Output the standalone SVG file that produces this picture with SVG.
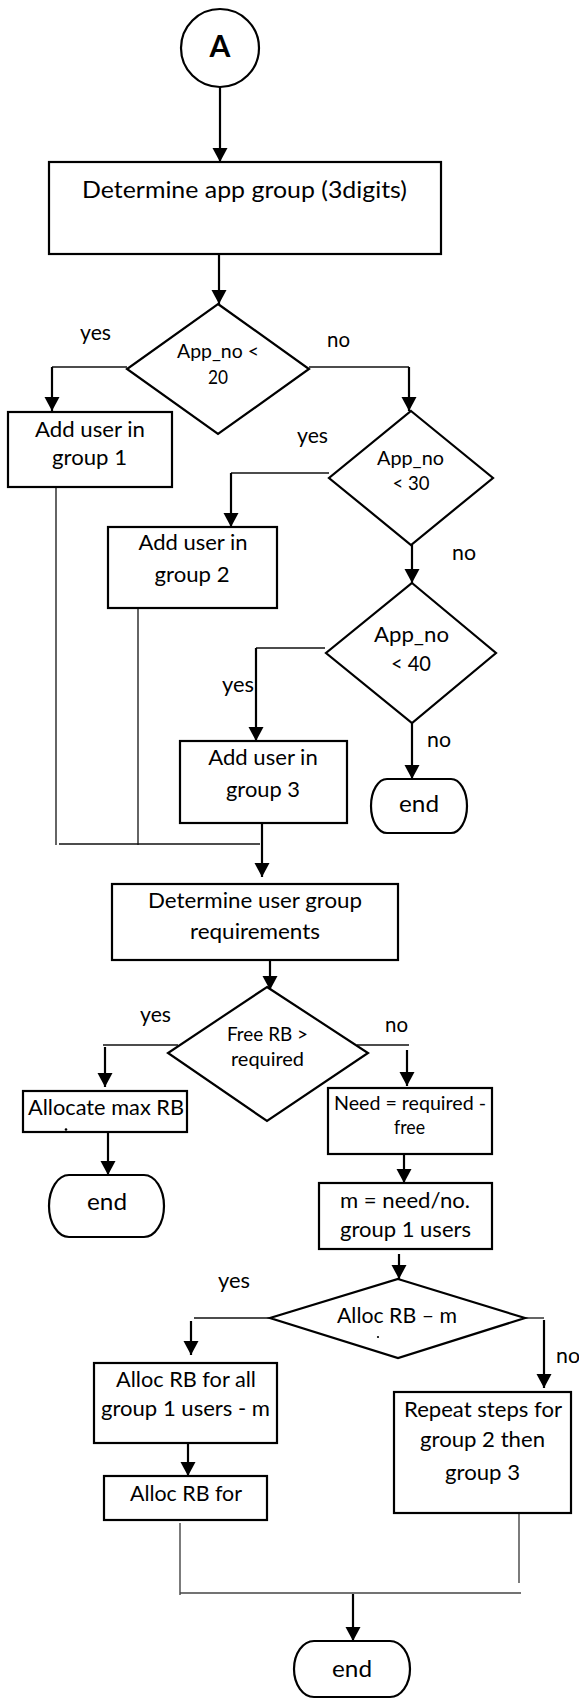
<svg xmlns="http://www.w3.org/2000/svg" width="579" height="1699" viewBox="0 0 579 1699">
  <defs>
    <marker id="arrow" markerUnits="userSpaceOnUse" markerWidth="16" markerHeight="16" refX="14" refY="7.5" orient="auto">
      <path d="M0,0 L14,7.5 L0,15 z" fill="#000"/>
    </marker>
    <style>
      .box { fill: #fff; stroke: #000; stroke-width: 2.2; }
      .dia { fill: #fff; stroke: #000; stroke-width: 2.2; stroke-linejoin: miter; }
      .term { fill: #fff; stroke: #000; stroke-width: 2.2; }
      .t { font-family: Lato, "Liberation Sans", sans-serif; fill: #000; text-anchor: middle; }
      .lbl { font-family: Lato, "Liberation Sans", sans-serif; fill: #000; font-size: 22px; }
      .flow { fill: none; stroke: #000; stroke-width: 2.2; marker-end: url(#arrow); }
      .join { fill: none; stroke: #111; stroke-width: 1.3; }
      .joing { fill: none; stroke: #444; stroke-width: 1.4; }
    </style>
  </defs>
  <rect width="579" height="1699" fill="#fff"/>

  <!-- connectors -->
  <g id="connectors">
    <line class="flow" x1="220" y1="87" x2="220" y2="162"/>
    <line class="flow" x1="219" y1="254" x2="219" y2="304"/>
    <!-- App_no < 20 -->
    <line class="join" x1="127" y1="367" x2="52" y2="367"/>
    <line class="flow" x1="52" y1="367" x2="52" y2="411"/>
    <line class="join" x1="309" y1="367" x2="409" y2="367"/>
    <line class="flow" x1="409" y1="367" x2="409" y2="411"/>
    <!-- App_no < 30 -->
    <line class="join" x1="329" y1="473" x2="231" y2="473"/>
    <line class="flow" x1="231" y1="473" x2="231" y2="527"/>
    <line class="flow" x1="412" y1="545" x2="412" y2="583"/>
    <!-- App_no < 40 -->
    <line class="join" x1="325" y1="648" x2="256" y2="648"/>
    <line class="flow" x1="256" y1="648" x2="256" y2="741"/>
    <line class="flow" x1="412" y1="723" x2="412" y2="779"/>
    <!-- group merge -->
    <line class="join" x1="56" y1="477" x2="56" y2="845"/>
    <line class="join" x1="138" y1="598" x2="138" y2="845"/>
    <line class="join" x1="59" y1="844" x2="260" y2="844"/>
    <line class="flow" x1="262" y1="812" x2="262" y2="877"/>
    <!-- requirements -->
    <line class="flow" x1="270" y1="953" x2="270" y2="990"/>
    <line class="join" x1="103" y1="1045" x2="178" y2="1045"/>
    <line class="flow" x1="105" y1="1047" x2="105" y2="1087"/>
    <line class="join" x1="357" y1="1045" x2="409" y2="1045"/>
    <line class="flow" x1="407" y1="1050" x2="407" y2="1086"/>
    <line class="flow" x1="108" y1="1132" x2="108" y2="1175"/>
    <line class="flow" x1="404" y1="1150" x2="404" y2="1183"/>
    <line class="flow" x1="399" y1="1254" x2="399" y2="1279"/>
    <!-- Alloc RB - m -->
    <line class="join" x1="270" y1="1318" x2="194" y2="1318"/>
    <line class="flow" x1="191" y1="1321" x2="191" y2="1355"/>
    <line class="join" x1="525" y1="1318" x2="544" y2="1318"/>
    <line class="flow" x1="544" y1="1320" x2="544" y2="1388"/>
    <line class="flow" x1="188" y1="1443" x2="188" y2="1476"/>
    <!-- final merge -->
    <line class="joing" x1="180" y1="1523" x2="180" y2="1595"/>
    <line class="joing" x1="519" y1="1508" x2="519" y2="1583"/>
    <line class="joing" x1="180" y1="1593" x2="521" y2="1593"/>
    <line class="flow" x1="353" y1="1594" x2="353" y2="1641"/>
  </g>

  <!-- connector labels -->
  <g id="labels">
    <text class="lbl" x="80" y="340" textLength="31" lengthAdjust="spacingAndGlyphs">yes</text>
    <text class="lbl" x="327" y="347" textLength="23" lengthAdjust="spacingAndGlyphs">no</text>
    <text class="lbl" x="297" y="443" textLength="31" lengthAdjust="spacingAndGlyphs">yes</text>
    <text class="lbl" x="452" y="560" textLength="24" lengthAdjust="spacingAndGlyphs">no</text>
    <text class="lbl" x="222" y="692" textLength="32" lengthAdjust="spacingAndGlyphs">yes</text>
    <text class="lbl" x="427" y="747" textLength="24" lengthAdjust="spacingAndGlyphs">no</text>
    <text class="lbl" x="140" y="1022" textLength="31" lengthAdjust="spacingAndGlyphs">yes</text>
    <text class="lbl" x="385" y="1032" textLength="23" lengthAdjust="spacingAndGlyphs">no</text>
    <text class="lbl" x="218" y="1288" textLength="32" lengthAdjust="spacingAndGlyphs">yes</text>
    <text class="lbl" x="556" y="1363" textLength="24" lengthAdjust="spacingAndGlyphs">no</text>
  </g>

  <g id="start">
    <circle cx="220" cy="48" r="39" fill="#fff" stroke="#000" stroke-width="2.2"/>
    <text class="t" x="220" y="57" font-size="30" font-weight="bold">A</text>
  </g>

  <g id="app-group">
    <rect class="box" x="49" y="162" width="392" height="92"/>
    <text class="t" x="244.5" y="198" font-size="23.5" textLength="325" lengthAdjust="spacingAndGlyphs">Determine app group (3digits)</text>
  </g>

  <g id="check-20">
    <polygon class="dia" points="218,304 309,369 218,434 127,369"/>
    <text class="t" x="218" y="358" font-size="19.5" textLength="82" lengthAdjust="spacingAndGlyphs">App_no &lt;</text>
    <text class="t" x="218" y="384" font-size="19.5" textLength="20" lengthAdjust="spacingAndGlyphs">20</text>
  </g>

  <g id="group-1">
    <rect class="box" x="8" y="412" width="164" height="75"/>
    <text class="t" x="90" y="437" font-size="21.5" textLength="110" lengthAdjust="spacingAndGlyphs">Add user in</text>
    <text class="t" x="89.5" y="465" font-size="21.5" textLength="75" lengthAdjust="spacingAndGlyphs">group 1</text>
  </g>

  <g id="check-30">
    <polygon class="dia" points="411,411 493,478 411,545 329,478"/>
    <text class="t" x="410.5" y="465" font-size="19.5" textLength="67" lengthAdjust="spacingAndGlyphs">App_no</text>
    <text class="t" x="411" y="490" font-size="19.5" textLength="37" lengthAdjust="spacingAndGlyphs">&lt; 30</text>
  </g>

  <g id="group-2">
    <rect class="box" x="108" y="527" width="169" height="81"/>
    <text class="t" x="193" y="550" font-size="21.5" textLength="109" lengthAdjust="spacingAndGlyphs">Add user in</text>
    <text class="t" x="192" y="582" font-size="21.5" textLength="75" lengthAdjust="spacingAndGlyphs">group 2</text>
  </g>

  <g id="check-40">
    <polygon class="dia" points="412,583 496,653 412,723 326,653"/>
    <text class="t" x="411.5" y="642" font-size="22" textLength="75" lengthAdjust="spacingAndGlyphs">App_no</text>
    <text class="t" x="411" y="671" font-size="22" textLength="40" lengthAdjust="spacingAndGlyphs">&lt; 40</text>
  </g>

  <g id="group-3">
    <rect class="box" x="180" y="741" width="167" height="82"/>
    <text class="t" x="263" y="765" font-size="21.5" textLength="109.5" lengthAdjust="spacingAndGlyphs">Add user in</text>
    <text class="t" x="263" y="797" font-size="21.5" textLength="74" lengthAdjust="spacingAndGlyphs">group 3</text>
  </g>

  <g id="end-1">
    <rect class="term" x="371" y="779" width="96" height="54" rx="16" ry="27"/>
    <text class="t" x="419" y="812" font-size="23.5" textLength="40" lengthAdjust="spacingAndGlyphs">end</text>
  </g>

  <g id="user-requirements">
    <rect class="box" x="112" y="884" width="286" height="76"/>
    <text class="t" x="255" y="908" font-size="21.5" textLength="214" lengthAdjust="spacingAndGlyphs">Determine user group</text>
    <text class="t" x="255" y="939" font-size="21.5" textLength="130" lengthAdjust="spacingAndGlyphs">requirements</text>
  </g>

  <g id="check-free">
    <polygon class="dia" points="267,987 368,1053 267,1121 168,1053"/>
    <text class="t" x="267.5" y="1041" font-size="18.5" textLength="81" lengthAdjust="spacingAndGlyphs">Free RB &gt;</text>
    <text class="t" x="267.5" y="1066" font-size="18.5" textLength="73" lengthAdjust="spacingAndGlyphs">required</text>
  </g>

  <g id="allocate-max">
    <rect class="box" x="23" y="1091" width="164" height="41"/>
    <text class="t" x="106" y="1115" font-size="20.5" textLength="156" lengthAdjust="spacingAndGlyphs">Allocate max RB</text>
    <circle cx="66" cy="1129.5" r="1.3" fill="#000"/>
  </g>

  <g id="end-2">
    <rect class="term" x="49" y="1175" width="115" height="62" rx="20" ry="31"/>
    <text class="t" x="107" y="1210" font-size="23.5" textLength="40" lengthAdjust="spacingAndGlyphs">end</text>
  </g>

  <g id="need">
    <rect class="box" x="328" y="1088" width="164" height="66"/>
    <text class="t" x="410" y="1110" font-size="19.5" textLength="152" lengthAdjust="spacingAndGlyphs">Need = required -</text>
    <text class="t" x="409.5" y="1134" font-size="19.5" textLength="31" lengthAdjust="spacingAndGlyphs">free</text>
  </g>

  <g id="m-share">
    <rect class="box" x="319" y="1183" width="173" height="66"/>
    <text class="t" x="405" y="1208" font-size="21.5" textLength="130" lengthAdjust="spacingAndGlyphs">m = need/no.</text>
    <text class="t" x="405.5" y="1237" font-size="21.5" textLength="131" lengthAdjust="spacingAndGlyphs">group 1 users</text>
  </g>

  <g id="check-alloc">
    <polygon class="dia" points="398,1279 525,1318 398,1358 270,1318"/>
    <text class="t" x="397" y="1323" font-size="22" textLength="120" lengthAdjust="spacingAndGlyphs">Alloc RB – m</text>
    <circle cx="378" cy="1337" r="1.1" fill="#000"/>
  </g>

  <g id="alloc-all">
    <rect class="box" x="94" y="1363" width="183" height="80"/>
    <text class="t" x="186" y="1387" font-size="22" textLength="140" lengthAdjust="spacingAndGlyphs">Alloc RB for all</text>
    <text class="t" x="185.5" y="1416" font-size="22" textLength="169" lengthAdjust="spacingAndGlyphs">group 1 users - m</text>
  </g>

  <g id="repeat">
    <rect class="box" x="394" y="1392" width="177" height="121"/>
    <text class="t" x="483" y="1417" font-size="22" textLength="158" lengthAdjust="spacingAndGlyphs">Repeat steps for</text>
    <text class="t" x="482.5" y="1447" font-size="22" textLength="125" lengthAdjust="spacingAndGlyphs">group 2 then</text>
    <text class="t" x="482.5" y="1480" font-size="22" textLength="75" lengthAdjust="spacingAndGlyphs">group 3</text>
  </g>

  <g id="alloc-for">
    <rect class="box" x="104" y="1476" width="163" height="44"/>
    <text class="t" x="186" y="1501" font-size="22" textLength="112" lengthAdjust="spacingAndGlyphs">Alloc RB for</text>
  </g>

  <g id="end-3">
    <rect class="term" x="294" y="1641" width="116" height="56" rx="20" ry="28"/>
    <text class="t" x="352" y="1677" font-size="23.5" textLength="40" lengthAdjust="spacingAndGlyphs">end</text>
  </g>
</svg>
